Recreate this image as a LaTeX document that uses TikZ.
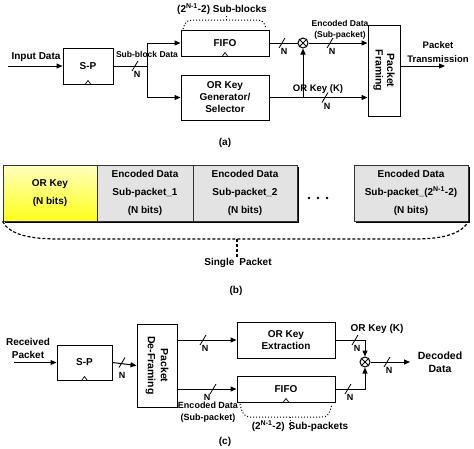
\documentclass[tikz,border=0pt]{standalone}
\usepackage{fontspec}
\setmainfont{Liberation Sans}
\usetikzlibrary{arrows.meta}

\tikzset{
  blk/.style={draw, line width=1pt, fill=white, align=center, inner sep=0pt,
    font=\fontsize{10}{12}\selectfont\bfseries},
  txt/.style={align=center, inner sep=0pt, font=\fontsize{10}{13}\selectfont\bfseries},
  smalltxt/.style={align=center, inner sep=0pt, font=\fontsize{8.5}{11}\selectfont\bfseries},
  wire/.style={line width=1pt},
  arr/.style={line width=1pt, -{Triangle[length=6pt,width=5pt]}},
  mult/.style={draw, circle, line width=1pt, fill=white, minimum size=10pt, inner sep=0pt},
  cell/.style={draw=black!80, line width=0.9pt, align=center, inner sep=0pt,
    minimum height=56pt, font=\fontsize{10}{18}\selectfont\bfseries},
  brace/.style={line width=1pt, dotted},
}

% bus width mark: slash across the wire and an N under it
\newcommand{\bus}[3][2,8.5]{
  \draw[line width=0.8pt] (#2) ++(-3,5) -- ++(6,-10);
  \path (#2) ++(#1) node[txt, font=\fontsize{9}{10}\selectfont\bfseries] (#3) {N};
}
% clock mark at the bottom of a box
\newcommand{\clk}[1]{
  \draw[line width=0.7pt] (#1.south) ++(-3,0) -- ++(3,-4) -- ++(3,4);
}

\begin{document}
\begin{tikzpicture}[x=1pt, y=-1pt]

        \useasboundingbox (0,0) rectangle (474,448);

        % (a) Transmitter
        \node[blk, minimum width=50pt, minimum height=36pt] (sp1) at (88,66) {S-P};
        \node[blk, minimum width=88pt, minimum height=26pt] (fifo1) at (225,43) {FIFO};
        \node[blk, minimum width=88pt, minimum height=45pt] (orgen) at (225,97.5) {OR Key\\Generator/\\Selector};
        \node[blk, minimum width=32pt, minimum height=91pt] (frame) at (384,70.5) {};
        \node[txt, rotate=-90, font=\fontsize{10.5}{11.5}\selectfont\bfseries] (frametxt) at (frame.center) {Packet\\Framing};
        \node[mult] (mul1) at (303,43) {};
        \draw[line width=0.8pt] (mul1.north west) -- (mul1.south east) (mul1.north east) -- (mul1.south west);
        \clk{sp1}
        \clk{fifo1}

        \coordinate (inp) at (8,66);
        \coordinate (jn) at (147,66);
        \coordinate (txout) at (445,66);

        \draw[arr] (inp) -- (sp1.west);
        \draw[wire] (sp1.east) -- (jn);
        \draw[arr] (jn) |- (fifo1.west);
        \draw[arr] (jn) |- (orgen.west);
        \draw[wire] (fifo1.east) -- (mul1.west);
        \draw[arr] (mul1.east) -- (frame.west |- mul1);
        \draw[arr] (orgen.east) -- (frame.west |- orgen.east);
        \draw[arr] (mul1 |- orgen.east) -- (mul1.south);
        \draw[arr] (frame.east |- txout) -- (txout);

        \bus{135,66}{na1}
        \bus{282,43}{na2}
        \bus{330,43}{na3}
        \bus{325,97.5}{na4}

        \node[txt] (lbinput) at (36,57) {Input Data};
        \node[smalltxt] (lbsub) at (147,54) {Sub-block Data};
        \node[smalltxt] (lbenc1) at (340,29.5) {Encoded Data\\(Sub-packet)};
        \node[txt, font=\fontsize{9.5}{11}\selectfont\bfseries] (lbkey1) at (318,89) {OR Key (K)};
        \node[txt, font=\fontsize{9.5}{14}\selectfont\bfseries] (lbtx) at (438,52) {Packet\\Transmission};

        % brace over the FIFO
        \draw[brace] (183,29) .. controls (185,22) and (187,20) .. (193,20) -- (257,20)
                     .. controls (262,20) and (264,22) .. (266,28);
        \draw[brace] (226,20) -- (226,14);
        \node[txt, fill=white, inner sep=1pt] (lbblocks) at (222,9) {(2\textsuperscript{N-1}-2) Sub-blocks};

        \node[txt] (capa) at (225,143) {(a)};

        % (b) Packet
        \fill[black] (4.5,166.5) rectangle (298.5,222.5);
        \fill[black] (355.5,166.5) rectangle (469.5,222.5);
        \node[cell, minimum width=94pt, top color=yellow!25, bottom color=yellow!90] (cellkey) at (50,193) {OR Key\\(N bits)};
        \node[cell, minimum width=96pt, fill=gray!22] (cell1) at (145,193) {Encoded Data\\Sub-packet\_1\\(N bits)};
        \node[cell, minimum width=104pt, fill=gray!22] (cell2) at (245,193) {Encoded Data\\Sub-packet\_2\\(N bits)};
        \node[cell, minimum width=114pt, fill=gray!22] (cellL) at (411,193) {Encoded Data\\Sub-packet\_(2\textsuperscript{N-1}-2)\\(N bits)};

        % Dots
        \foreach \x in {309,318,327}
        \fill (\x,198) circle (1.4);

        \draw[line width=1.2pt, dash pattern=on 3pt off 2pt] (cellkey.south west) .. controls (10,235) and (30,239) .. (60,239)
             -- (415,239) .. controls (445,239) and (462,233) .. (cellL.south east);
        \draw[line width=1.2pt, dash pattern=on 3pt off 2pt] (237,239) -- (237,257);
        \node[txt] (lbsingle) at (238,263) {Single\hspace{5pt}Packet};

        \node[txt] (capb) at (236,291) {(b)};

        % (c) Receiver
        \node[blk, minimum width=55pt, minimum height=35pt] (sp2) at (84.5,362.5) {S-P};
        \node[blk, minimum width=40pt, minimum height=83pt] (deframe) at (157,365.5) {};
        \node[txt, rotate=-90, font=\fontsize{10.5}{13}\selectfont\bfseries] (deframetxt) at (deframe.center) {Packet\\De-Framing};
        \node[blk, minimum width=98pt, minimum height=36pt] (orext) at (286,340) {OR Key\\Extraction};
        \node[blk, minimum width=98pt, minimum height=26pt] (fifo2) at (286,389) {FIFO};
        \node[mult] (mul2) at (365,362) {};
        \draw[line width=0.8pt] (mul2.north west) -- (mul2.south east) (mul2.north east) -- (mul2.south west);
        \clk{sp2}
        \clk{fifo2}

        \coordinate (rx) at (14,362.5);
        \coordinate (rxout) at (410,362);

        \draw[arr] (rx) -- (sp2.west);
        \draw[arr] (sp2.east) -- (deframe.west);
        \draw[arr] (deframe.east |- orext.west) -- (orext.west);
        \draw[arr] (deframe.east |- fifo2.west) -- (fifo2.west);
        \draw[arr] (orext.east) -| (mul2.north);
        \draw[arr] (fifo2.east) -| (mul2.south);
        \draw[arr] (mul2.east) -- (rxout);

        \bus[0,13]{122,362.5}{nc1}
        \bus{203,340}{nc2}
        \bus[-6,8]{213,389}{nc3}
        \bus{355,340}{nc4}
        \bus{348,389}{nc5}
        \bus{387,362}{nc6}

        \node[txt] (lbrx) at (28,348.5) {Received\\Packet};
        \node[txt, font=\fontsize{9}{12}\selectfont\bfseries] (lbenc2) at (208,412) {Encoded Data\\(Sub-packet)};
        \node[txt] (lbkey2) at (377,329) {OR Key (K)};
        \node[txt, font=\fontsize{10.5}{13}\selectfont\bfseries] (lbdec) at (440,362.5) {Decoded\\Data};

        % brace under the FIFO
        \draw[brace] (240,404) .. controls (242,413) and (244,417) .. (250,417) -- (322,417)
                     .. controls (328,417) and (330,413) .. (332,404);
        \draw[brace] (290,417) -- (290,430);
        \node[txt] (lbpackets) at (300,426) {(2\textsuperscript{N-1}-2)\hspace{4pt}Sub-packets};

        \node[txt] (capc) at (225,442) {(c)};

\end{tikzpicture}
\end{document}
